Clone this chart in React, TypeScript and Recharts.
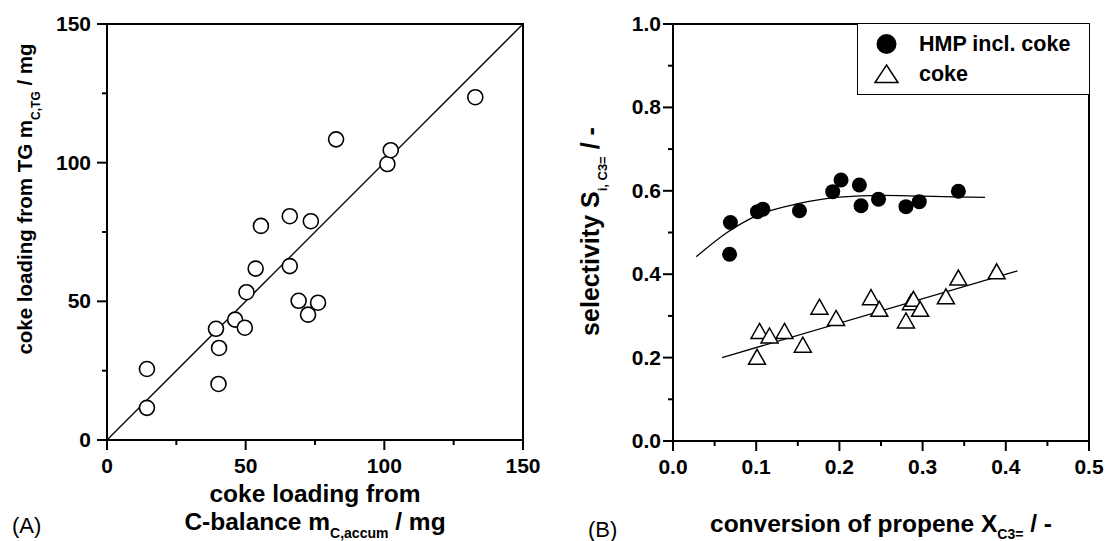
import React from "react";
import {
  ComposedChart,
  Scatter,
  Line,
  XAxis,
  YAxis,
  ReferenceArea,
  Legend,
} from "recharts";

// (A) coke loading: C-balance vs. TG
const cBalanceLoading = [14.4, 14.4, 39.3, 40.4, 40.2, 46.2, 49.7, 50.3, 53.6, 55.5, 65.9, 65.9, 69.1, 72.5, 73.5, 76.1, 82.6, 101.1, 102.3, 132.8];
const tgLoading = [25.6, 11.6, 40.1, 33.2, 20.2, 43.4, 40.5, 53.3, 61.8, 77.2, 62.7, 80.7, 50.2, 45.2, 78.9, 49.5, 108.4, 99.5, 104.5, 123.6];
const parityX = [0, 150];
const parityY = [0, 150];
const ticksA = [0, 25, 50, 75, 100, 125, 150];

// (B) selectivity vs. propene conversion
const seriesNames = ["HMP incl. coke", "coke"];
const hmpConversion = [0.069, 0.068, 0.1015, 0.108, 0.152, 0.192, 0.202, 0.224, 0.226, 0.247, 0.28, 0.296, 0.343];
const hmpSelectivity = [0.524, 0.448, 0.55, 0.556, 0.552, 0.598, 0.626, 0.614, 0.564, 0.58, 0.562, 0.574, 0.599];
const cokeConversion = [0.101, 0.104, 0.116, 0.134, 0.156, 0.176, 0.196, 0.238, 0.248, 0.28, 0.286, 0.289, 0.297, 0.328, 0.343, 0.389];
const cokeSelectivity = [0.202, 0.264, 0.253, 0.264, 0.231, 0.322, 0.295, 0.345, 0.317, 0.289, 0.333, 0.341, 0.317, 0.347, 0.392, 0.407];
const hmpFitConversion = [0.028, 0.065, 0.1, 0.15, 0.2, 0.25, 0.3, 0.375];
const hmpFitSelectivity = [0.442, 0.5, 0.54, 0.569, 0.585, 0.589, 0.587, 0.584];
const cokeFitConversion = [0.059, 0.414];
const cokeFitSelectivity = [0.2, 0.408];
const ticksBx = [0, 0.05, 0.1, 0.15, 0.2, 0.25, 0.3, 0.35, 0.4, 0.45, 0.5];
const ticksBy = [0, 0.1, 0.2, 0.3, 0.4, 0.5, 0.6, 0.7, 0.8, 0.9, 1.0];

const zip = (xs: number[], ys: number[]) => xs.map((x, i) => ({ x, y: ys[i] }));

const FONT = '"Liberation Sans", Arial, Helvetica, sans-serif';
const tickFont = { fontFamily: FONT, fontWeight: 700, fontSize: 21, fill: "#000" };
const titleFont = { fontFamily: FONT, fontWeight: 700, fontSize: 24.5, fill: "#000" };
const panelFont = { fontFamily: FONT, fontWeight: 400, fontSize: 22, fill: "#000" };

// every second tick is a labelled major tick, the others are short minor ticks
function AxisTick(props: any) {
  const { x, y, index, payload, side, digits, gap } = props;
  const major = index % 2 === 0;
  const len = major ? 10 : 5;
  const label = major ? Number(payload.value).toFixed(digits) : null;
  if (side === "x") {
    const y0 = y - 10;
    return (
      <g>
        <line x1={x} x2={x} y1={y0} y2={y0 + len} stroke="#000" strokeWidth={2} />
        {label && (
          <text x={x} y={y0 + 32.5} textAnchor="middle" style={tickFont}>
            {label}
          </text>
        )}
      </g>
    );
  }
  const x0 = x + 10;
  return (
    <g>
      <line x1={x0 - len} x2={x0} y1={y} y2={y} stroke="#000" strokeWidth={2} />
      {label && (
        <text x={x0 - gap} y={y + 7} textAnchor="end" style={tickFont}>
          {label}
        </text>
      )}
    </g>
  );
}

function XTitleA() {
  return (
    <g style={titleFont}>
      <text x={315} y={502} textAnchor="middle">coke loading from</text>
      <text x={315} y={530} textAnchor="middle">
        C-balance m<tspan dy={8} fontSize={14}>C,accum</tspan>
        <tspan dy={-8}> / mg</tspan>
      </text>
      <text x={12} y={533} style={panelFont}>(A)</text>
    </g>
  );
}

function YTitleA() {
  return (
    <text transform="translate(32,199) rotate(-90)" textAnchor="middle" style={{ ...titleFont, fontSize: 20.5 }}>
      coke loading from TG m<tspan dy={8} fontSize={12}>C,TG</tspan>
      <tspan dy={-8}> / mg</tspan>
    </text>
  );
}

function XTitleB() {
  return (
    <g style={titleFont}>
      <text x={328} y={532} textAnchor="middle">
        conversion of propene X<tspan dy={7} fontSize={14}>C3=</tspan>
        <tspan dy={-7}> / -</tspan>
      </text>
      <text x={35} y={537} style={panelFont}>(B)</text>
    </g>
  );
}

function YTitleB() {
  return (
    <text transform="translate(45.5,231.5) rotate(-90)" textAnchor="middle" style={{ ...titleFont, fontSize: 25 }}>
      selectivity S<tspan dy={8} fontSize={13}>i, C3=</tspan>
      <tspan dy={-8}> / -</tspan>
    </text>
  );
}

const OpenCircle = (p: any) => (
  <circle cx={p.cx} cy={p.cy} r={7.5} fill="#fff" stroke="#000" strokeWidth={1.6} />
);
const FilledCircle = (p: any) => <circle cx={p.cx} cy={p.cy} r={7.5} fill="#000" />;
const OpenTriangle = (p: any) => (
  <path
    d={`M${p.cx},${p.cy - 7.5} L${p.cx + 8.5},${p.cy + 7.5} L${p.cx - 8.5},${p.cy + 7.5} Z`}
    fill="#fff"
    stroke="#000"
    strokeWidth={1.5}
  />
);

function LegendBox(props: any) {
  const items = (props.payload || []).filter((p: any) => seriesNames.includes(p.value));
  return (
    <div
      style={{
        position: "relative",
        width: 233,
        height: 72,
        border: "1.5px solid #000",
        boxSizing: "border-box",
        background: "#fff",
        fontFamily: FONT,
        fontWeight: 700,
        fontSize: 21.5,
      }}
    >
      {items.map((p: any, i: number) => (
        <div
          key={p.value}
          style={{ position: "absolute", left: 0, top: (i === 0 ? 20 : 50) - 13, height: 26, display: "flex", alignItems: "center" }}
        >
          <svg width={61} height={26}>
            {p.value === seriesNames[0] ? (
              <circle cx={28.5} cy={13} r={10} fill="#000" />
            ) : (
              <path d="M28.5,4 L40,21.5 L17,21.5 Z" fill="#fff" stroke="#000" strokeWidth={1.5} />
            )}
          </svg>
          <span style={{ lineHeight: "26px" }}>{p.value}</span>
        </div>
      ))}
    </div>
  );
}

const axisLine = { stroke: "#000", strokeWidth: 2 };

export default function App() {
  return (
    <div style={{ position: "absolute", left: 0, top: 0, width: 1107, height: 541, background: "#fff" }}>
      <div style={{ position: "absolute", left: 0, top: 0 }}>
        <ComposedChart width={553} height={541} margin={{ top: 24, right: 30, bottom: 0, left: 0 }}>
          <XAxis
            dataKey="x"
            type="number"
            domain={[0, 150]}
            ticks={ticksA}
            interval={0}
            height={101}
            tickSize={10}
            tickMargin={0}
            tickLine={false}
            axisLine={axisLine}
            tick={<AxisTick side="x" digits={0} />}
            label={<XTitleA />}
          />
          <YAxis
            dataKey="y"
            type="number"
            domain={[0, 150]}
            ticks={ticksA}
            interval={0}
            width={107}
            tickSize={10}
            tickMargin={0}
            tickLine={false}
            axisLine={axisLine}
            tick={<AxisTick side="y" digits={0} gap={16} />}
            label={<YTitleA />}
          />
          <ReferenceArea x1={0} x2={150} y1={0} y2={150} fill="none" stroke="#000" strokeWidth={2} />
          <Line data={zip(parityX, parityY)} dataKey="y" stroke="#000" strokeWidth={1.3} dot={false} legendType="none" isAnimationActive={false} />
          <Scatter data={zip(cBalanceLoading, tgLoading)} shape={OpenCircle} isAnimationActive={false} />
        </ComposedChart>
      </div>
      <div style={{ position: "absolute", left: 553, top: 0 }}>
        <ComposedChart width={554} height={541} margin={{ top: 24, right: 18, bottom: 0, left: 0 }}>
          <XAxis
            dataKey="x"
            type="number"
            domain={[0, 0.5]}
            ticks={ticksBx}
            interval={0}
            height={100}
            tickSize={10}
            tickMargin={0}
            tickLine={false}
            axisLine={axisLine}
            tick={<AxisTick side="x" digits={1} />}
            label={<XTitleB />}
          />
          <YAxis
            dataKey="y"
            type="number"
            domain={[0, 1]}
            ticks={ticksBy}
            interval={0}
            width={120}
            tickSize={10}
            tickMargin={0}
            tickLine={false}
            axisLine={axisLine}
            tick={<AxisTick side="y" digits={1} gap={12} />}
            label={<YTitleB />}
          />
          <ReferenceArea x1={0} x2={0.5} y1={0} y2={1} fill="none" stroke="#000" strokeWidth={2} />
          <Line data={zip(hmpFitConversion, hmpFitSelectivity)} dataKey="y" type="monotone" stroke="#000" strokeWidth={1.3} dot={false} legendType="none" isAnimationActive={false} />
          <Line data={zip(cokeFitConversion, cokeFitSelectivity)} dataKey="y" stroke="#000" strokeWidth={1.3} dot={false} legendType="none" isAnimationActive={false} />
          <Scatter name={seriesNames[0]} data={zip(hmpConversion, hmpSelectivity)} shape={FilledCircle} isAnimationActive={false} />
          <Scatter name={seriesNames[1]} data={zip(cokeConversion, cokeSelectivity)} shape={OpenTriangle} isAnimationActive={false} />
          <Legend
            layout="horizontal"
            verticalAlign="middle"
            align="center"
            wrapperStyle={{ position: "absolute", left: 304, top: 23, width: 233, height: 72 }}
            content={<LegendBox />}
          />
        </ComposedChart>
      </div>
    </div>
  );
}
